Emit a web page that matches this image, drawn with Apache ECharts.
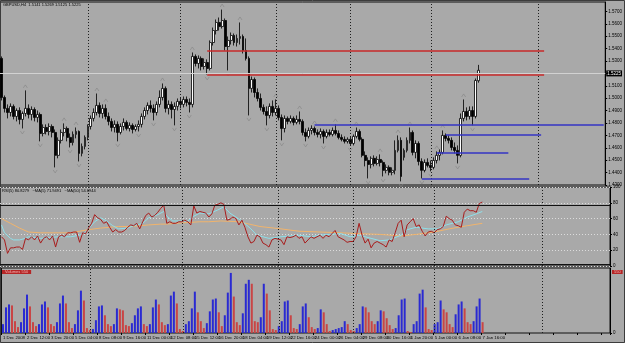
<!DOCTYPE html>
<html>
<head>
<meta charset="utf-8">
<script src="https://cdn.jsdelivr.net/npm/echarts@6/dist/echarts.min.js"></script>
<style>
html, body { margin: 0; padding: 0; background: #a9a9a9; }
#main { width: 625px; height: 343px; }
</style>
</head>
<body>
<div id="main"></div>
<script>
// GBPUSD H4, 1 Dec 2008 - 7 Jan 2009
var dateLabels = ['1 Dec 2008', '2 Dec 12:00', '3 Dec 20:00', '5 Dec 04:00', '8 Dec 08:00', '9 Dec 16:00',
  '11 Dec 00:00', '12 Dec 08:00', '15 Dec 12:00', '16 Dec 20:00', '18 Dec 04:00', '19 Dec 12:00',
  '22 Dec 16:00', '24 Dec 00:00', '26 Dec 04:00', '29 Dec 08:00', '30 Dec 16:00', '1 Jan 20:00',
  '5 Jan 00:00', '6 Jan 08:00', '7 Jan 16:00'];

// [open, close, low, high]
var candles = [
  [1.5321,1.5006,1.4982,1.5337],[1.5006,1.4918,1.4885,1.5022],[1.4918,1.4885,1.4837,1.4950],[1.4885,1.4934,1.4853,1.4958],
  [1.4934,1.4853,1.4829,1.4950],[1.4853,1.4901,1.4813,1.4918],[1.4901,1.4829,1.4789,1.4926],[1.4829,1.4877,1.4756,1.4893],
  [1.4877,1.4918,1.4853,1.5063],[1.4918,1.4869,1.4837,1.4950],[1.4869,1.4909,1.4821,1.4934],[1.4909,1.4845,1.4813,1.4926],
  [1.4845,1.4869,1.4805,1.4901],[1.4869,1.4716,1.4652,1.4885],[1.4716,1.4764,1.4692,1.4789],[1.4764,1.4732,1.4708,1.4789],
  [1.4732,1.4772,1.4700,1.4797],[1.4772,1.4724,1.4684,1.4789],[1.4724,1.4539,1.4442,1.4748],[1.4539,1.4660,1.4515,1.4684],
  [1.4660,1.4724,1.4635,1.4748],[1.4724,1.4756,1.4692,1.4797],[1.4756,1.4684,1.4652,1.4772],[1.4684,1.4643,1.4603,1.4716],
  [1.4643,1.4708,1.4619,1.4732],[1.4708,1.4732,1.4676,1.4764],[1.4732,1.4555,1.4490,1.4740],[1.4555,1.4611,1.4531,1.4635],
  [1.4611,1.4684,1.4587,1.4700],[1.4684,1.4772,1.4660,1.4789],[1.4772,1.4837,1.4748,1.4861],[1.4837,1.4885,1.4813,1.4918],
  [1.4885,1.4942,1.4861,1.5038],[1.4942,1.4877,1.4845,1.4966],[1.4877,1.4918,1.4837,1.4950],[1.4918,1.4853,1.4829,1.4950],
  [1.4853,1.4813,1.4781,1.4885],[1.4813,1.4764,1.4732,1.4837],[1.4764,1.4789,1.4724,1.4821],[1.4789,1.4724,1.4652,1.4813],
  [1.4724,1.4772,1.4708,1.4797],[1.4772,1.4805,1.4740,1.4837],[1.4805,1.4756,1.4740,1.4821],[1.4756,1.4781,1.4732,1.4805],
  [1.4781,1.4748,1.4716,1.4797],[1.4748,1.4772,1.4732,1.4789],[1.4772,1.4789,1.4732,1.4821],[1.4789,1.4853,1.4764,1.4877],
  [1.4853,1.4901,1.4829,1.4926],[1.4901,1.4942,1.4869,1.4966],[1.4942,1.4918,1.4885,1.4982],[1.4918,1.4885,1.4821,1.4950],
  [1.4885,1.4950,1.4861,1.4974],[1.4950,1.5006,1.4926,1.5063],[1.5006,1.5079,1.4982,1.5119],[1.5079,1.4918,1.4885,1.5095],
  [1.4918,1.4950,1.4869,1.4982],[1.4950,1.4909,1.4837,1.4974],[1.4909,1.4934,1.4781,1.4966],[1.4934,1.4974,1.4901,1.4998],
  [1.4974,1.4950,1.4918,1.5006],[1.4950,1.4990,1.4926,1.5014],[1.4990,1.4966,1.4934,1.5014],[1.4966,1.4950,1.4885,1.4998],
  [1.4950,1.5337,1.4926,1.5369],[1.5337,1.5280,1.5256,1.5353],[1.5280,1.5321,1.5240,1.5345],[1.5321,1.5256,1.5224,1.5337],
  [1.5256,1.5288,1.5232,1.5321],[1.5288,1.5240,1.5192,1.5313],[1.5240,1.5449,1.5224,1.5466],[1.5449,1.5546,1.5425,1.5570],
  [1.5546,1.5611,1.5514,1.5635],[1.5611,1.5578,1.5546,1.5651],[1.5578,1.5627,1.5562,1.5715],[1.5627,1.5417,1.5385,1.5643],
  [1.5417,1.5466,1.5224,1.5498],[1.5466,1.5506,1.5433,1.5530],[1.5506,1.5449,1.5425,1.5522],[1.5449,1.5482,1.5417,1.5514],
  [1.5482,1.5498,1.5433,1.5611],[1.5498,1.5385,1.5361,1.5514],[1.5385,1.5321,1.5304,1.5482],[1.5321,1.5079,1.4861,1.5337],
  [1.5079,1.5151,1.5046,1.5175],[1.5151,1.5046,1.5006,1.5167],[1.5046,1.4998,1.4974,1.5079],[1.4998,1.4926,1.4901,1.5038],
  [1.4926,1.4893,1.4869,1.4950],[1.4893,1.4861,1.4781,1.4934],[1.4861,1.4934,1.4837,1.4958],[1.4934,1.4885,1.4853,1.4982],
  [1.4885,1.4918,1.4861,1.4990],[1.4918,1.4845,1.4821,1.4942],[1.4845,1.4756,1.4660,1.4869],[1.4756,1.4837,1.4724,1.4861],
  [1.4837,1.4813,1.4789,1.4853],[1.4813,1.4837,1.4797,1.4861],[1.4837,1.4805,1.4781,1.4853],[1.4805,1.4829,1.4789,1.4861],
  [1.4829,1.4813,1.4789,1.4893],[1.4813,1.4724,1.4700,1.4829],[1.4724,1.4692,1.4652,1.4756],[1.4692,1.4740,1.4676,1.4764],
  [1.4740,1.4756,1.4708,1.4781],[1.4756,1.4724,1.4700,1.4772],[1.4724,1.4708,1.4684,1.4748],[1.4708,1.4732,1.4676,1.4756],
  [1.4732,1.4692,1.4635,1.4748],[1.4692,1.4724,1.4676,1.4748],[1.4724,1.4708,1.4692,1.4748],[1.4708,1.4740,1.4692,1.4764],
  [1.4740,1.4716,1.4700,1.4789],[1.4716,1.4684,1.4668,1.4740],[1.4684,1.4668,1.4652,1.4708],[1.4668,1.4652,1.4635,1.4692],
  [1.4652,1.4668,1.4635,1.4684],[1.4668,1.4635,1.4619,1.4692],[1.4635,1.4692,1.4619,1.4708],[1.4692,1.4732,1.4676,1.4764],
  [1.4732,1.4668,1.4652,1.4748],[1.4668,1.4539,1.4523,1.4684],[1.4539,1.4498,1.4450,1.4571],[1.4498,1.4466,1.4353,1.4523],
  [1.4466,1.4515,1.4434,1.4531],[1.4515,1.4474,1.4450,1.4539],[1.4474,1.4506,1.4458,1.4531],[1.4506,1.4482,1.4450,1.4547],
  [1.4482,1.4418,1.4369,1.4498],[1.4418,1.4442,1.4394,1.4466],[1.4442,1.4402,1.4378,1.4458],[1.4402,1.4418,1.4378,1.4442],
  [1.4418,1.4579,1.4386,1.4660],[1.4579,1.4660,1.4563,1.4700],[1.4660,1.4369,1.4329,1.4684],[1.4523,1.4579,1.4498,1.4595],
  [1.4579,1.4660,1.4563,1.4684],[1.4660,1.4724,1.4635,1.4764],[1.4724,1.4563,1.4539,1.4740],[1.4563,1.4635,1.4515,1.4660],
  [1.4635,1.4490,1.4458,1.4652],[1.4490,1.4418,1.4353,1.4515],[1.4418,1.4482,1.4402,1.4506],[1.4482,1.4458,1.4442,1.4515],
  [1.4458,1.4442,1.4410,1.4498],[1.4442,1.4498,1.4426,1.4523],[1.4498,1.4539,1.4474,1.4571],[1.4539,1.4563,1.4498,1.4587],
  [1.4563,1.4700,1.4547,1.4740],[1.4700,1.4676,1.4652,1.4716],[1.4676,1.4660,1.4635,1.4700],[1.4660,1.4603,1.4579,1.4684],
  [1.4603,1.4579,1.4555,1.4643],[1.4579,1.4539,1.4474,1.4619],[1.4539,1.4837,1.4523,1.4877],[1.4837,1.4893,1.4813,1.4990],
  [1.4893,1.4853,1.4821,1.4926],[1.4853,1.4901,1.4829,1.4934],[1.4901,1.4853,1.4781,1.4934],[1.4853,1.5143,1.4837,1.5159],
  [1.5141,1.5225,1.5125,1.5269]
];

var volumes = [
  450,1300,1450,1400,600,300,550,1250,1950,1350,
  550,350,450,1450,1600,1300,450,350,550,1500,
  1900,1500,550,250,450,1150,2150,1650,250,150,
  200,650,1350,1400,900,450,350,450,1250,1200,
  1150,400,350,500,900,1250,1350,450,350,450,
  1300,1700,1450,550,400,450,1900,2100,1500,200,
  100,450,600,1250,2100,1050,600,250,500,1100,
  1700,1750,1050,350,900,2050,3050,1850,550,400,
  1000,2500,2700,2500,600,550,800,2500,2000,1150,
  200,150,350,600,1600,1650,900,250,200,450,
  1350,1500,800,300,200,250,1200,1050,450,100,
  150,200,250,300,600,450,150,100,250,450,
  1350,1300,1050,600,450,600,1150,1100,750,400,
  200,250,900,1700,1750,100,50,450,600,2000,
  2200,1300,200,150,450,550,1650,1200,1050,450,
  300,950,1450,1600,1250,550,450,600,1350,1750,
  550
];

var rsi = [
  37,33,16,23,23,24,24,21,35,33, 37,33,38,29,35,37,33,38,24,37,
  39,37,42,42,43,43,30,42,41,48, 54,65,61,59,54,56,49,43,46,43,
  43,45,49,52,51,54,47,56,64,67, 62,64,68,73,77,54,56,54,54,56,
  56,58,56,52,76,67,69,68,67,62, 66,77,78,80,78,58,59,62,60,52,
  58,49,37,29,31,39,37,29,27,24, 33,35,34,33,27,37,36,37,39,35,
  37,29,33,37,35,37,39,35,39,37, 41,45,37,35,33,30,31,31,37,54,
  39,29,34,23,29,31,29,27,24,33, 31,42,54,58,37,52,56,60,50,52,
  44,38,43,44,42,46,47,50,63,60, 58,52,51,49,68,72,70,70,68,79,
  81
];

// [bar, value]
var rsiMaFast = [[0,52],[1,42],[3,35],[4,33],[6,33],[8,35],[9,37],[13,35],[16,36],[19,37],[23,37],[26,39],
  [28,43],[31,56],[33,61],[35,57],[37,51],[39,47],[42,48],[44,51],[47,54],[49,61],[52,65],[54,69],[55,63],
  [57,57],[59,57],[62,57],[64,63],[66,67],[69,66],[72,71],[74,75],[76,67],[78,62],[80,57],[83,47],[85,39],
  [87,37],[89,35],[93,37],[96,38],[99,39],[103,37],[106,39],[109,40],[113,41],[116,37],[119,39],[123,35],
  [126,32],[129,33],[133,39],[135,46],[138,49],[142,47],[145,47],[148,52],[152,56],[155,62],[158,66],[160,69]];
var rsiMaSlow = [[0,60],[3,54],[6,48],[9,43],[13,42],[16,42],[19,42],[23,42],[26,44],[29,46],[33,48],[36,49],
  [39,50],[43,50],[46,51],[49,52],[53,53],[55,53],[58,54],[62,55],[66,56],[69,56],[73,57],[79,56],[86,50],
  [93,47],[99,44],[106,43],[113,42],[119,41],[126,40],[133,38],[138,40],[144,43],[149,47],[155,51],[160,54]];

var upFractals = [8, 21, 25, 32, 35, 54, 64, 74, 80, 92, 100, 105, 112, 119, 127, 133, 137, 146, 148, 155];
var downFractals = [7, 13, 18, 23, 26, 39, 46, 51, 58, 63, 69, 76, 83, 89, 94, 102, 108, 117, 123, 128, 134, 141, 144, 153, 158];

var redLevels = [{ price: 1.5379, from: 69, to: 182 }, { price: 1.5189, from: 69, to: 182 }];
var blueLevels = [{ price: 1.4789, from: 105, to: 202 }, { price: 1.4702, from: 149, to: 181 },
  { price: 1.4560, from: 146, to: 170 }, { price: 1.4353, from: 141, to: 177 }];
var separators = [29, 60, 92, 117, 144, 180];
var lastPrice = 1.5225;

var slots = 203;
var cats = [];
for (var i = 0; i < slots; i++) cats.push(String(i));

var FONT = 'Liberation Sans';
var sepLines = separators.map(function (b) { return { xAxis: String(b) }; });
var sepMark = {
  silent: true, symbol: ['none', 'none'], animation: false,
  label: { show: false },
  lineStyle: { color: '#1e1e1e', type: [1, 2], width: 1 },
  data: sepLines
};

function levelSeg(l, color) {
  return [{ coord: [String(l.from), l.price], lineStyle: { color: color, width: 1.6, type: 'solid' } },
          { coord: [String(l.to), l.price] }];
}

var mainMarks = sepLines.slice();
redLevels.forEach(function (l) { mainMarks.push(levelSeg(l, '#c92a2a')); });
blueLevels.forEach(function (l) { mainMarks.push(levelSeg(l, '#3434c4')); });
mainMarks.push({
  yAxis: lastPrice,
  lineStyle: { color: '#d2d2d2', type: 'solid', width: 1 },
  label: {
    show: true, position: 'end', formatter: lastPrice.toFixed(4), distance: 1,
    color: '#ffffff', backgroundColor: '#000000', fontSize: 4.5, fontFamily: FONT, padding: [1, 1, 0, 1]
  }
});

var volColors = volumes.map(function (v, k) {
  return k > 0 && v < volumes[k - 1] ? '#c94545' : '#2a2ad2';
});

function fractalPoints(list, col) {
  return list.map(function (b) { return [String(b), candles[b][col]]; });
}

var chart = echarts.init(document.getElementById('main'));
var axisFont = { fontSize: 4.5, fontFamily: FONT, color: '#000' };

chart.setOption({
  animation: false,
  backgroundColor: '#a9a9a9',
  grid: [
    { left: 0, top: 2, width: 610, height: 183, show: true, borderColor: '#111', borderWidth: 1, backgroundColor: 'transparent' },
    { left: 0, top: 187, width: 610, height: 79, show: true, borderColor: '#111', borderWidth: 1, backgroundColor: 'transparent' },
    { left: 0, top: 268, width: 610, height: 65, show: true, borderColor: '#111', borderWidth: 1, backgroundColor: 'transparent' }
  ],
  xAxis: [0, 1, 2].map(function (g) {
    return {
      type: 'category', gridIndex: g, data: cats, boundaryGap: true,
      axisLine: { show: false },
      axisTick: { show: g === 2, interval: 7, length: 2, lineStyle: { color: '#000' } },
      splitLine: { show: false },
      axisLabel: {
        show: g === 2, interval: 7, align: 'left', margin: 3, hideOverlap: false,
        showMinLabel: true, showMaxLabel: false,
        fontSize: 4.3, fontFamily: FONT, color: '#000',
        formatter: function (v, idx) {
          var k = idx / 8;
          return (idx % 8 === 0 && k < dateLabels.length) ? dateLabels[k] : '';
        }
      }
    };
  }),
  yAxis: [
    {
      type: 'value', gridIndex: 0, position: 'right', min: 1.43, max: 1.5776, interval: 0.01,
      axisLine: { show: true, lineStyle: { color: '#000' } },
      axisTick: { show: true, length: 2, lineStyle: { color: '#000' } },
      splitLine: { show: false },
      axisLabel: Object.assign({ margin: 3, showMaxLabel: false, formatter: function (v) { return v.toFixed(4); } }, axisFont)
    },
    {
      type: 'value', gridIndex: 1, position: 'right', min: 0, max: 100, interval: 20,
      axisLine: { show: true, lineStyle: { color: '#000' } },
      axisTick: { show: true, length: 2, lineStyle: { color: '#000' } },
      splitLine: { show: true, lineStyle: { color: '#dcdcdc', type: [1, 2], width: 1 } },
      axisLabel: Object.assign({ margin: 3 }, axisFont)
    },
    {
      type: 'value', gridIndex: 2, position: 'right', min: 0, max: 3300, interval: 3300,
      axisLine: { show: true, lineStyle: { color: '#000' } },
      axisTick: { show: true, length: 2, lineStyle: { color: '#000' } },
      splitLine: { show: false },
      axisLabel: Object.assign({ margin: 3, showMaxLabel: false }, axisFont)
    }
  ],
  series: [
    {
      name: 'GBPUSD', type: 'candlestick', xAxisIndex: 0, yAxisIndex: 0,
      data: candles, barWidth: 2.4,
      itemStyle: { color: '#ffffff', color0: '#000000', borderColor: '#000000', borderColor0: '#000000', borderWidth: 0.8 },
      markLine: {
        silent: true, symbol: ['none', 'none'], animation: false,
        label: { show: false },
        lineStyle: { color: '#1e1e1e', type: [1, 2], width: 1 },
        data: mainMarks
      }
    },
    {
      name: 'fractal up', type: 'scatter', xAxisIndex: 0, yAxisIndex: 0,
      data: fractalPoints(upFractals, 3),
      symbol: 'path://M0,6 L3,0 L6,6', symbolSize: [4, 3], symbolOffset: [0, -4],
      itemStyle: { color: 'rgba(0,0,0,0)', borderColor: '#858585', borderWidth: 0.8 }
    },
    {
      name: 'fractal down', type: 'scatter', xAxisIndex: 0, yAxisIndex: 0,
      data: fractalPoints(downFractals, 2),
      symbol: 'path://M0,0 L3,6 L6,0', symbolSize: [4, 3], symbolOffset: [0, 4],
      itemStyle: { color: 'rgba(0,0,0,0)', borderColor: '#858585', borderWidth: 0.8 }
    },
    {
      name: 'MA50', type: 'line', xAxisIndex: 1, yAxisIndex: 1,
      data: rsiMaSlow.map(function (p) { return [String(p[0]), p[1]]; }),
      showSymbol: false, lineStyle: { color: '#f1b46c', width: 1 }
    },
    {
      name: 'MA5', type: 'line', xAxisIndex: 1, yAxisIndex: 1,
      data: rsiMaFast.map(function (p) { return [String(p[0]), p[1]]; }),
      showSymbol: false, lineStyle: { color: '#8ee0ea', width: 1 }
    },
    {
      name: 'RSI', type: 'line', xAxisIndex: 1, yAxisIndex: 1,
      data: rsi, showSymbol: false,
      lineStyle: { color: '#a81c1c', width: 1 },
      markLine: {
        silent: true, symbol: ['none', 'none'], animation: false,
        label: { show: false },
        data: sepLines.concat([
          { yAxis: 77, lineStyle: { color: '#111', type: 'solid', width: 1 } },
          { yAxis: 2.5, lineStyle: { color: '#111', type: 'solid', width: 1 } }
        ]),
        lineStyle: { color: '#1e1e1e', type: [1, 2], width: 1 }
      }
    },
    {
      name: 'Volumes', type: 'bar', xAxisIndex: 2, yAxisIndex: 2,
      data: volumes.map(function (v, k) { return { value: v, itemStyle: { color: volColors[k] } }; }),
      barWidth: 2,
      markLine: sepMark
    }
  ],
  graphic: [
    { type: 'rect', shape: { x: 0.5, y: 0.5, width: 624, height: 342 }, style: { fill: 'none', stroke: '#3c3c3c', lineWidth: 1 }, silent: true },
    { type: 'text', left: 3, top: 3, style: { text: 'GBPUSD,H4  1.5141 1.5269 1.5125 1.5225', fontSize: 4, fontFamily: FONT, fill: '#000' } },
    { type: 'text', left: 2, top: 189, style: { text: 'RSI(5) 80.8279   ~MA(5) 71.9491   ~MA(50) 54.6944', fontSize: 4, fontFamily: FONT, fill: '#000' } },
    { type: 'text', left: 2, top: 270, style: { text: 'Volumes 550', fontSize: 4, fontFamily: FONT, fill: '#f3b0b0', backgroundColor: '#b52626', padding: [0, 3] } },
    { type: 'text', left: 612, top: 270, style: { text: '550', fontSize: 4, fontFamily: FONT, fill: '#f3b0b0', backgroundColor: '#b52626', padding: [0, 2] } }
  ]
});
</script>
</body>
</html>
